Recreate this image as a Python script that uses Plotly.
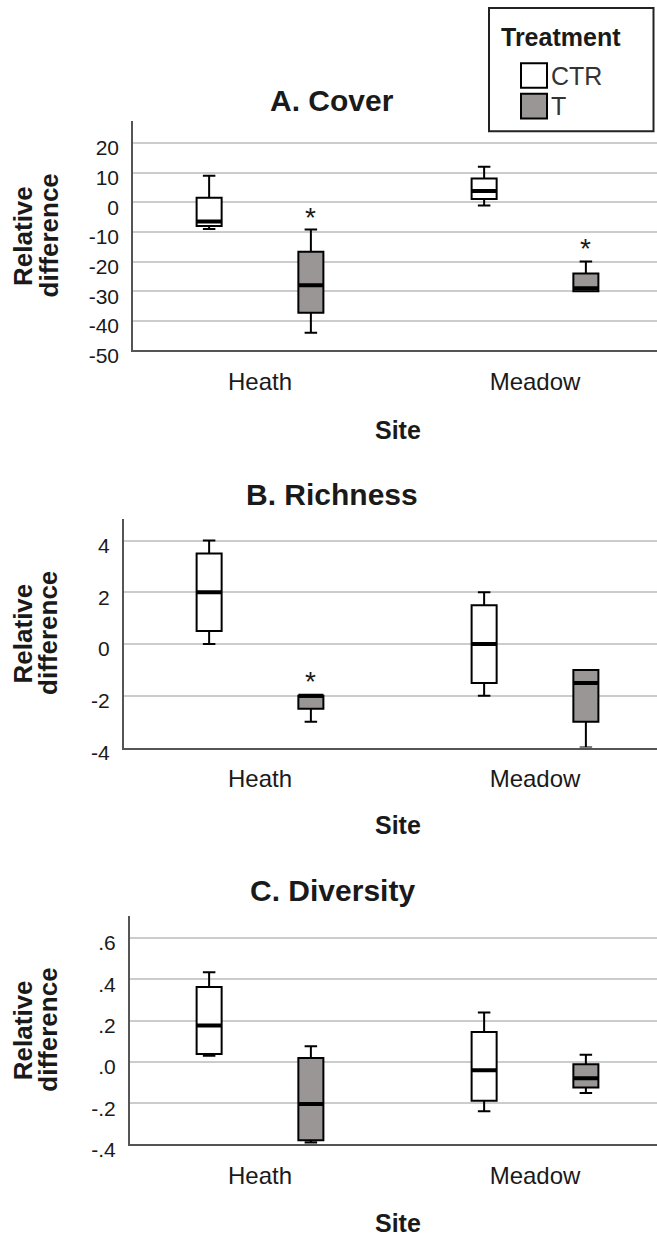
import plotly.graph_objects as go

W, H = 657, 1252
FONT = "Liberation Sans, Arial, sans-serif"
INK = "#1a1a1a"

sites = ["Heath", "Meadow"]
treatments = ["CTR", "T"]
fills = {"CTR": "#ffffff", "T": "#9a9696"}

panel_titles = ["A. Cover", "B. Richness", "C. Diversity"]
x_title = "Site"
y_title_lines = ["Relative", "difference"]

# box statistics per panel: [Heath, Meadow]
cover = {
    "CTR": dict(lower=[-9.0, -1.1], q1=[-8.0, 1.1], med=[-6.5, 3.8], q3=[1.5, 8.0], upper=[9.0, 12.0]),
    "T":   dict(lower=[-44.0, -30.0], q1=[-37.3, -30.0], med=[-28.0, -29.0], q3=[-16.7, -24.0], upper=[-9.2, -20.0]),
}
richness = {
    "CTR": dict(lower=[0.0, -2.0], q1=[0.5, -1.5], med=[2.0, 0.0], q3=[3.5, 1.5], upper=[4.0, 2.0]),
    "T":   dict(lower=[-3.0, -4.0], q1=[-2.5, -3.0], med=[-2.0, -1.5], q3=[-2.0, -1.0], upper=[-2.0, -1.0]),
}
diversity = {
    "CTR": dict(lower=[0.03, -0.239], q1=[0.038, -0.188], med=[0.176, -0.041], q3=[0.362, 0.144], upper=[0.434, 0.239]),
    "T":   dict(lower=[-0.39, -0.151], q1=[-0.38, -0.124], med=[-0.204, -0.079], q3=[0.019, -0.012], upper=[0.075, 0.035]),
}
panels_data = [cover, richness, diversity]

# significance asterisks (site, treatment, y value)
stars = [
    [("Heath", "T", -2.7), ("Meadow", "T", -13.3)],
    [("Heath", "T", -1.18)],
    [],
]

y_ranges = [[-50, 27.3], [-4, 4.82], [-0.4, 0.707]]
y_tickvals = [[20, 10, 0, -10, -20, -30, -40, -50], [4, 2, 0, -2, -4], [0.6, 0.4, 0.2, 0.0, -0.2, -0.4]]
y_ticktext = [["20", "10", "0", "-10", "-20", "-30", "-40", "-50"],
              ["4", "2", "0", "-2", "-4"],
              [".6", ".4", ".2", ".0", "-.2", "-.4"]]

# ---- layout geometry (pixels) ----
plot_top = [123, 526, 927.7]
plot_bot = [355, 757.3, 1159.3]
plot_left = [133.2, 124, 129.9]
cat0_px, cat1_px = 260.0, 535.0
title_y = [102, 501, 902]
site_y = [436, 836, 1239]


def px(x):
    return x / W


def py(y):
    return 1 - y / H


fig = go.Figure()
for i, data in enumerate(panels_data):
    xa = "x" if i == 0 else f"x{i+1}"
    ya = "y" if i == 0 else f"y{i+1}"
    for tr in treatments:
        d = data[tr]
        fig.add_trace(go.Box(
            x=sites, q1=d["q1"], median=d["med"], q3=d["q3"],
            lowerfence=d["lower"], upperfence=d["upper"],
            name=tr, offsetgroup=tr, boxpoints=False,
            fillcolor=fills[tr], line=dict(color="black", width=2),
            whiskerwidth=0.5, showlegend=False, hoverinfo="skip",
            xaxis=xa, yaxis=ya,
        ))
    # thick median overlay
    for tr in treatments:
        d = data[tr]
        fig.add_trace(go.Box(
            x=sites, q1=d["med"], median=d["med"], q3=d["med"],
            lowerfence=d["med"], upperfence=d["med"],
            name=tr + " median", offsetgroup=tr, boxpoints=False,
            fillcolor="rgba(0,0,0,0)", line=dict(color="black", width=4),
            whiskerwidth=0, showlegend=False, hoverinfo="skip",
            xaxis=xa, yaxis=ya,
        ))

    scale = cat1_px - cat0_px
    r0 = (plot_left[i] - cat0_px) / scale
    r1 = (W - cat0_px) / scale
    axis_x = dict(
        domain=[px(plot_left[i]), 1], range=[r0, r1], type="category",
        categoryorder="array", categoryarray=sites,
        showgrid=False, zeroline=False, showline=True, linecolor="#555555", linewidth=2,
        ticks="", tickfont=dict(family=FONT, size=24, color=INK), ticklabelstandoff=9,
        anchor=ya, fixedrange=True,
    )
    axis_y = dict(
        domain=[py(plot_bot[i]), py(plot_top[i])], range=y_ranges[i],
        tickvals=y_tickvals[i], ticktext=y_ticktext[i],
        showgrid=True, gridcolor="#cccccc", gridwidth=2, zeroline=False,
        showline=True, linecolor="#555555", linewidth=2,
        ticks="", tickfont=dict(family=FONT, size=21, color=INK), ticklabelstandoff=8,
        ticklabelshift=5,
        anchor=xa, fixedrange=True,
    )
    fig.layout["xaxis" if i == 0 else f"xaxis{i+1}"] = axis_x
    fig.layout["yaxis" if i == 0 else f"yaxis{i+1}"] = axis_y

    fig.add_annotation(text=f"<b>{panel_titles[i]}</b>", xref="paper", yref="paper",
                       x=px(332), y=py(title_y[i]), xanchor="center", yanchor="middle",
                       showarrow=False, font=dict(family=FONT, size=30, color=INK))
    fig.add_annotation(text=f"<b>{x_title}</b>", xref="paper", yref="paper",
                       x=px(398), y=py(site_y[i]), xanchor="center", yanchor="middle",
                       showarrow=False, font=dict(family=FONT, size=25, color=INK))
    ymid = (plot_top[i] + plot_bot[i]) / 2
    for line_txt, lx in zip(y_title_lines, [23, 48.5]):
        fig.add_annotation(text=f"<b>{line_txt}</b>", xref="paper", yref="paper",
                           x=px(lx), y=py(ymid), xanchor="center", yanchor="middle",
                           textangle=-90, showarrow=False,
                           font=dict(family=FONT, size=26, color=INK))
    for site, tr, yv in stars[i]:
        off = -0.185 if tr == "CTR" else 0.185
        fig.add_annotation(text="*", xref=xa, yref=ya, x=sites.index(site) + off, y=yv,
                           xanchor="center", yanchor="middle", showarrow=False, yshift=-7,
                           font=dict(family=FONT, size=28, color=INK))

# legend (manual)
fig.add_shape(type="rect", xref="paper", yref="paper", x0=px(489), x1=px(653.5), y0=py(133), y1=py(8),
              line=dict(color="#222222", width=2), fillcolor="white")
fig.add_annotation(text="<b>Treatment</b>", xref="paper", yref="paper", x=px(499), y=py(37),
                   xanchor="left", yanchor="middle", showarrow=False,
                   font=dict(family=FONT, size=25, color=INK))
for tr, (y0, y1) in zip(treatments, [(64, 89), (95, 120)]):
    fig.add_shape(type="rect", xref="paper", yref="paper", x0=px(521), x1=px(547), y0=py(y1), y1=py(y0),
                  line=dict(color="black", width=2), fillcolor=fills[tr])
    fig.add_annotation(text=tr, xref="paper", yref="paper", x=px(549), y=py((y0 + y1) / 2),
                       xanchor="left", yanchor="middle", showarrow=False,
                       font=dict(family=FONT, size=25, color="#333333"))

fig.update_layout(
    width=W, height=H, margin=dict(l=0, r=0, t=0, b=0),
    paper_bgcolor="white", plot_bgcolor="white",
    boxmode="group", boxgap=0.26, boxgroupgap=0.754,
    showlegend=False,
)
fig.write_html("out.html", config={"displayModeBar": False})
